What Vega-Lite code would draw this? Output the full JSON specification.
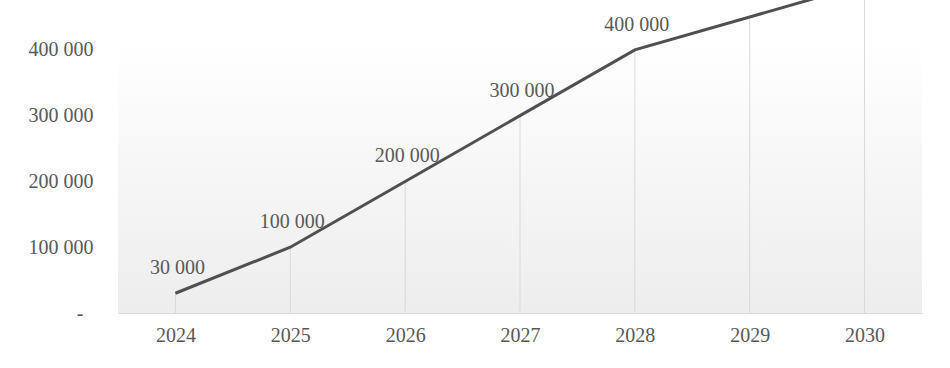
{
  "$schema": "https://vega.github.io/schema/vega-lite/v6.json",
  "width": 804,
  "height": 273,
  "autosize": {"type": "none"},
  "padding": {"left": 118, "top": 40, "right": 28, "bottom": 55},
  "background": "#ffffff",
  "config": {
    "locale": {"number": {"decimal": ".", "thousands": " ", "grouping": [3], "currency": ["", ""]}},
    "font": "Liberation Serif",
    "view": {
      "stroke": null,
      "fill": {"gradient": "linear", "x1": 0, "y1": 0, "x2": 0, "y2": 1,
        "stops": [{"offset": 0, "color": "#ffffff"}, {"offset": 1, "color": "#ededed"}]}
    }
  },
  "data": {"values": [
    {"year": 2024, "value": 30000},
    {"year": 2025, "value": 100000},
    {"year": 2026, "value": 200000},
    {"year": 2027, "value": 300000},
    {"year": 2028, "value": 400000},
    {"year": 2029, "value": 450000},
    {"year": 2030, "value": 500000}
  ]},
  "encoding": {
    "x": {
      "field": "year", "type": "ordinal",
      "scale": {"type": "point", "padding": 0.5},
      "axis": {
        "title": null, "labelAngle": 0, "ticks": false, "grid": false,
        "domain": true, "domainColor": "#d9d9d9", "domainWidth": 1,
        "labelPadding": 12, "labelFontSize": 20, "labelColor": "#595959",
        "labelFont": "Liberation Serif"
      }
    },
    "y": {
      "field": "value", "type": "quantitative",
      "scale": {"domain": [0, 415000], "nice": false, "zero": true},
      "axis": {
        "title": null, "domain": false, "ticks": false, "grid": false,
        "values": [0, 100000, 200000, 300000, 400000],
        "labelExpr": "datum.value === 0 ? '-\u2007\u200b' : replace(format(datum.value, ','), ',', ' ')",
        "labelPadding": 25, "labelFontSize": 20, "labelColor": "#595959",
        "labelFont": "Liberation Serif"
      }
    }
  },
  "layer": [
    {
      "mark": {"type": "rule", "color": "#d9d9d9", "strokeWidth": 1, "clip": false},
      "encoding": {"y2": {"datum": 0}}
    },
    {
      "mark": {"type": "line", "color": "#505050", "strokeWidth": 3, "clip": false}
    },
    {
      "transform": [{"filter": "datum.year <= 2028"}],
      "mark": {"type": "text", "dy": -25, "dx": 2, "fontSize": 20, "color": "#595959", "font": "Liberation Serif", "baseline": "middle", "align": "center", "clip": false},
      "encoding": {"text": {"field": "value", "type": "quantitative", "format": ","}}
    }
  ]
}
